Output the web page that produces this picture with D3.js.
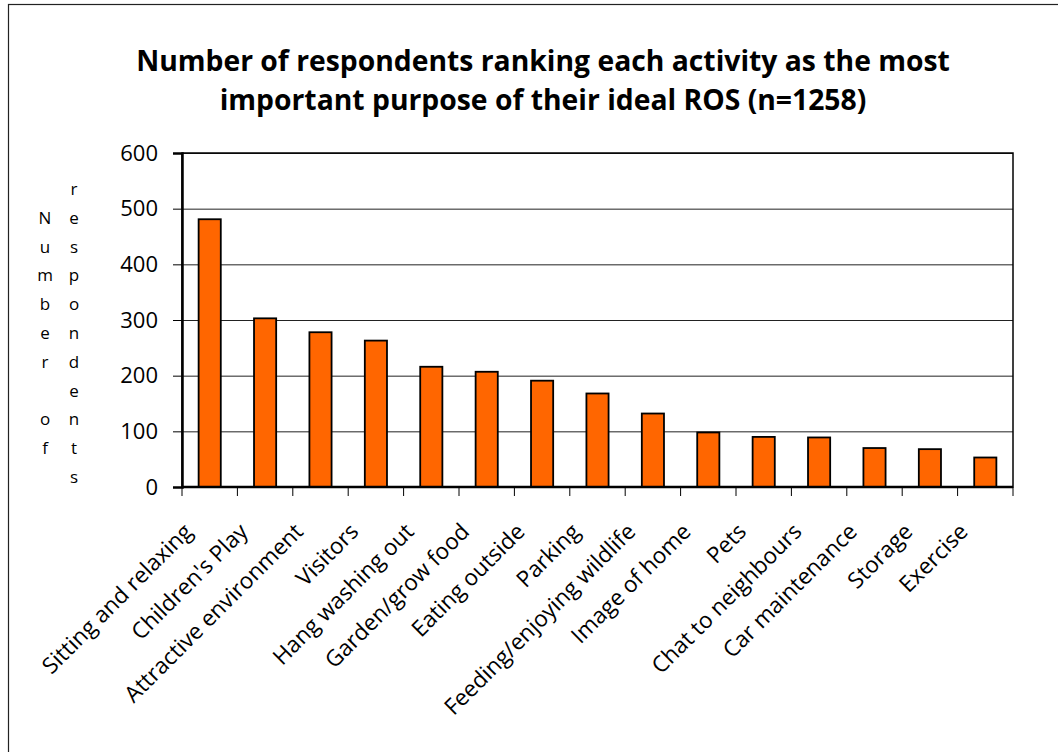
<!DOCTYPE html>
<html>
<head>
<meta charset="utf-8">
<script src="https://cdn.jsdelivr.net/npm/d3@7"></script>
<style>
  html, body { margin: 0; padding: 0; background: #fff; }
  svg { display: block; font-family: "Open Sans", "Noto Sans", sans-serif; }
</style>
</head>
<body>
<svg id="chart" width="1058" height="752"></svg>
<script>
// Activities, in the order shown along the x axis
const activities = [
  "Sitting and relaxing", "Children's Play", "Attractive environment", "Visitors",
  "Hang washing out", "Garden/grow food", "Eating outside", "Parking",
  "Feeding/enjoying wildlife", "Image of home", "Pets", "Chat to neighbours",
  "Car maintenance", "Storage", "Exercise"
];
// Respondents ranking each activity first
const respondents = [481, 303, 278, 263, 216, 207, 191, 168, 132, 98, 90, 89, 70, 68, 53];
const yTicks = [0, 100, 200, 300, 400, 500, 600];
const titleLines = [
  "Number of respondents ranking each activity as the most",
  "important purpose of their ideal ROS (n=1258)"
];
const yLabelColumns = ["Number of", "respondents"];

const svg = d3.select("#chart");
const W = 1058, H = 752;
const plot = { left: 182, right: 1013, top: 153, bottom: 487 };

// outer frame
svg.append("rect")
  .attr("x", 8.5).attr("y", 4.5).attr("width", W).attr("height", H)
  .attr("fill", "none").attr("stroke", "#222").attr("stroke-width", 1.2);

// title
svg.append("g").selectAll("text").data(titleLines).join("text")
  .attr("x", 543).attr("y", (d, i) => 71 + i * 39)
  .attr("text-anchor", "middle")
  .attr("font-size", 28.3).attr("font-weight", 700).attr("fill", "#000")
  .text(d => d);

const x = d3.scaleBand().domain(activities).range([plot.left, plot.right]).paddingInner(0.6).paddingOuter(0.3);
const xb = d3.scaleBand().domain(activities).range([plot.left, plot.right]);
const y = d3.scaleLinear().domain([0, 600]).range([plot.bottom, plot.top]);

// gridlines
svg.append("g").selectAll("line").data(yTicks.filter(t => t > 0)).join("line")
  .attr("x1", plot.left).attr("x2", plot.right)
  .attr("y1", d => y(d) + 0.5).attr("y2", d => y(d) + 0.5)
  .attr("stroke", "#222").attr("stroke-width", 1);

// plot frame
svg.append("rect")
  .attr("x", plot.left).attr("y", plot.top)
  .attr("width", plot.right - plot.left).attr("height", plot.bottom - plot.top)
  .attr("fill", "none").attr("stroke", "#000").attr("stroke-width", 1.5);

// bars
svg.append("g").selectAll("rect").data(activities).join("rect")
  .attr("x", d => x(d)).attr("width", x.bandwidth())
  .attr("y", (d, i) => y(respondents[i]))
  .attr("height", (d, i) => y(0) - y(respondents[i]))
  .attr("fill", "#FF6600").attr("stroke", "#000").attr("stroke-width", 1.8);

// y axis
const yAxis = d3.axisLeft(y).tickValues(yTicks).tickSize(9).tickPadding(15);
const gy = svg.append("g").attr("transform", `translate(${plot.left},0)`).call(yAxis);
gy.select(".domain").attr("stroke", "#000").attr("stroke-width", 2.5);
gy.selectAll(".tick line").attr("stroke", "#000");
gy.selectAll(".tick text").attr("font-size", 22).attr("fill", "#000")
  .attr("font-family", "'Open Sans', sans-serif");

// x axis: ticks at category boundaries
const boundaries = activities.map(a => xb(a)).concat([plot.right]);
svg.append("line")
  .attr("x1", plot.left).attr("x2", plot.right)
  .attr("y1", plot.bottom).attr("y2", plot.bottom)
  .attr("stroke", "#000").attr("stroke-width", 2.5);
svg.append("g").selectAll("line").data(boundaries).join("line")
  .attr("x1", d => d).attr("x2", d => d)
  .attr("y1", plot.bottom).attr("y2", plot.bottom + 9)
  .attr("stroke", "#000").attr("stroke-width", 1);

svg.append("g").selectAll("text").data(activities).join("text")
  .attr("transform", d => `translate(${xb(d) + xb.bandwidth() / 2 - 16},${plot.bottom + 46}) rotate(-45)`)
  .attr("text-anchor", "end")
  .attr("font-size", 22.5).attr("fill", "#000")
  .text(d => d);

// y axis title, one character per line in two columns
const lineStep = 28.8;
yLabelColumns.forEach((col, ci) => {
  const chars = Array.from(col);
  const n = chars.length;
  const cx = ci === 0 ? 45 : 74;
  const mid = 333;
  svg.append("g").selectAll("text").data(chars).join("text")
    .attr("x", cx)
    .attr("y", (d, i) => mid + (i - (n - 1) / 2) * lineStep + 6)
    .attr("text-anchor", "middle")
    .attr("font-size", 17).attr("fill", "#000")
    .text(d => d);
});
</script>
</body>
</html>
